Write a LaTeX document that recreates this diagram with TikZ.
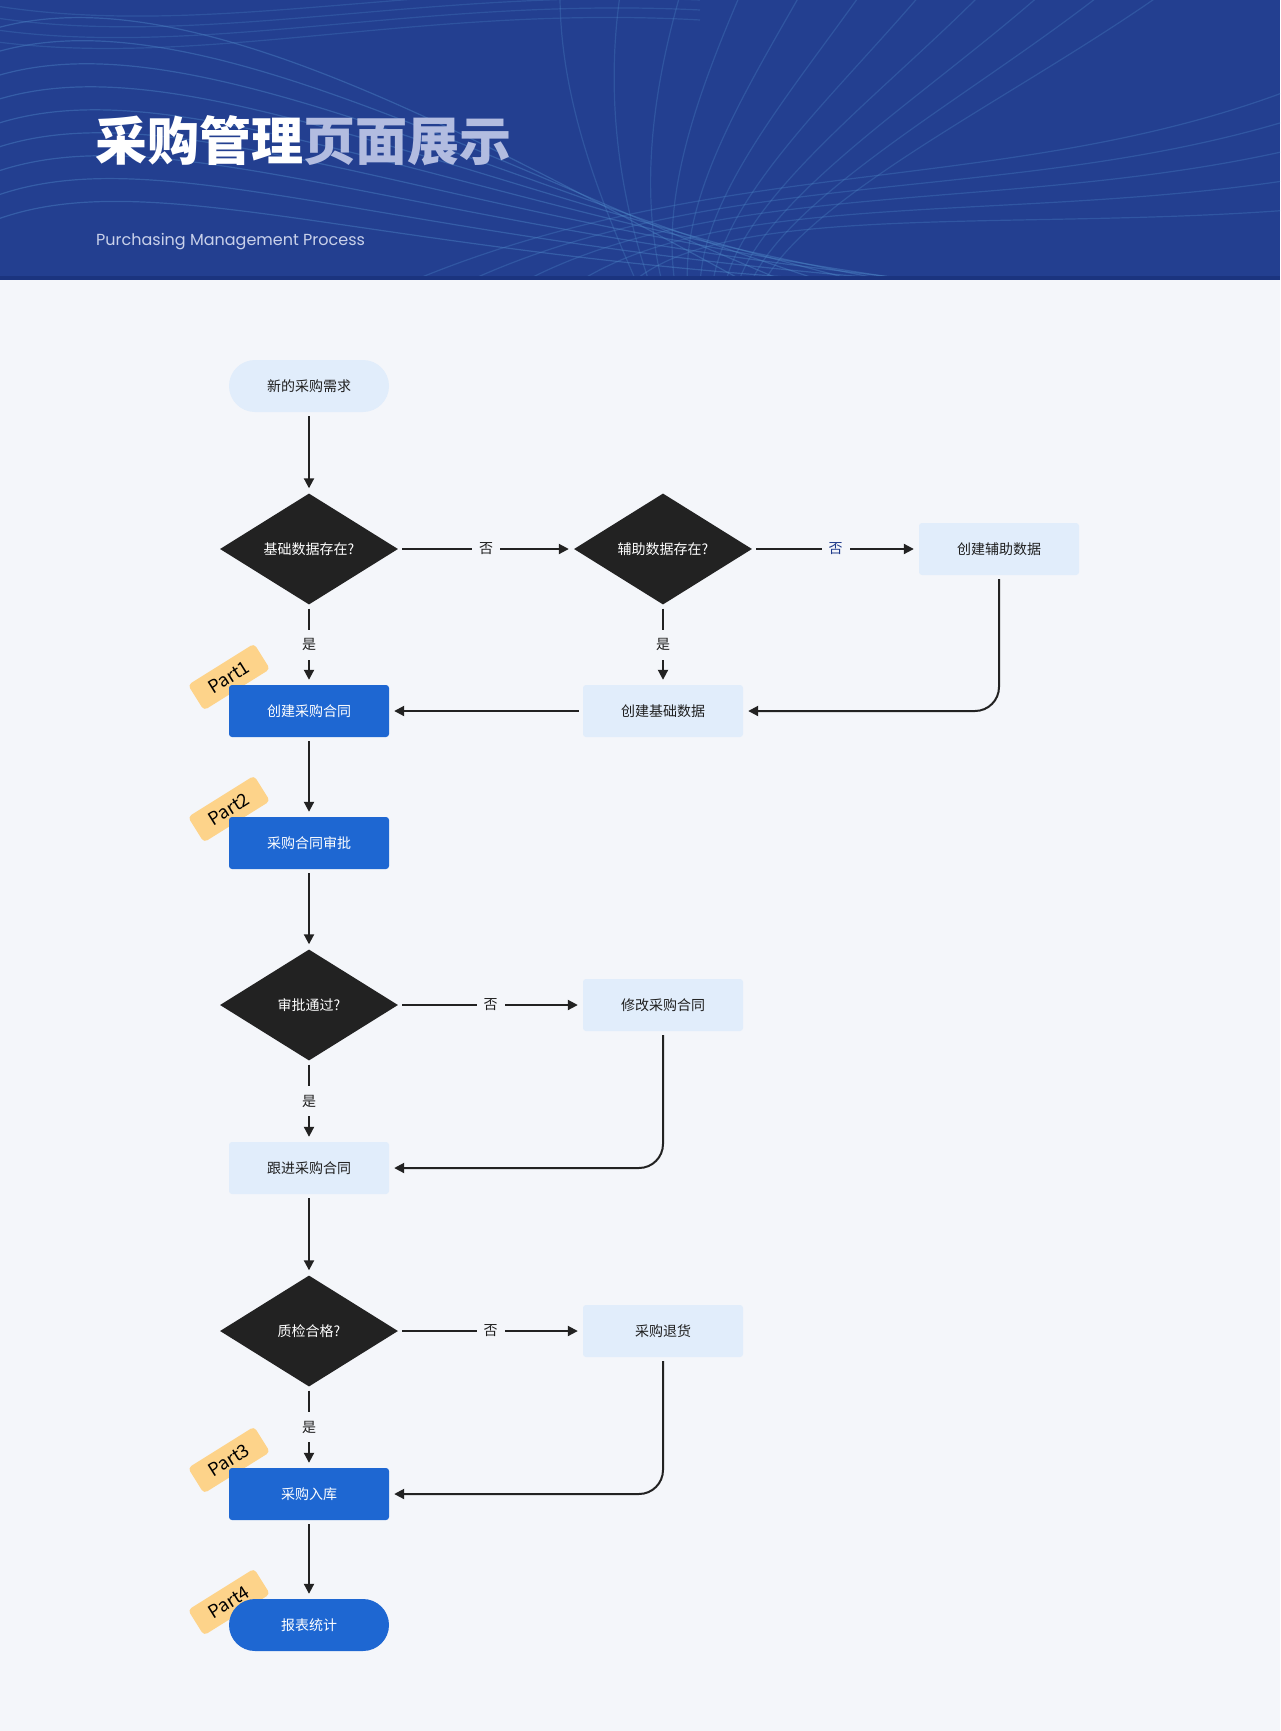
\documentclass[tikz,border=0pt]{standalone}
\usepackage{fontspec}
\setmainfont{Noto Sans CJK SC}
\newfontfamily\subfont{Poppins}
\usetikzlibrary{shapes.geometric,arrows.meta}
\definecolor{hdr}{HTML}{233F90}
\definecolor{hdrdark}{HTML}{1B347F}
\definecolor{wave}{HTML}{4E88C8}
\definecolor{bgmain}{HTML}{F4F6FA}
\definecolor{lightblue}{HTML}{E1EDFB}
\definecolor{bluefill}{HTML}{1E67D2}
\definecolor{dk}{HTML}{222222}
\definecolor{txt}{HTML}{1F1F1F}
\definecolor{tagc}{HTML}{FDD38A}
\definecolor{lav}{HTML}{B2BCE0}
\definecolor{subc}{HTML}{C9D1EA}
\definecolor{nolbl}{HTML}{1F3A8A}
\begin{document}
\begin{tikzpicture}[x=1pt,y=-1pt,
  base/.style={font=\fontsize{14}{16}\selectfont, inner sep=0pt, minimum width=160pt, minimum height=52pt, align=center},
  lightbox/.style={base, rectangle, rounded corners=3pt, fill=lightblue, text=txt},
  bluebox/.style={base, rectangle, rounded corners=3pt, fill=bluefill, text=white},
  lightpill/.style={base, rectangle, rounded corners=26pt, fill=lightblue, text=txt},
  bluepill/.style={base, rectangle, rounded corners=26pt, fill=bluefill, text=white},
  decision/.style={diamond, fill=dk, text=white, minimum width=178pt, minimum height=111pt, inner sep=0pt, font=\fontsize{14}{16}\selectfont},
  tagbox/.style={rectangle, rounded corners=4pt, fill=tagc, minimum width=78pt, minimum height=30pt, rotate=32, inner sep=0pt, text=black, font=\fontsize{18}{18}\selectfont},
  conn/.style={line width=2pt, draw=dk, -{Triangle[length=10pt,width=10pt]}, shorten >=5pt, shorten <=4pt},
  lbl/.style={fill=bgmain, font=\fontsize{14}{16}\selectfont, text=txt, inner xsep=7pt, inner ysep=9pt},
  wavy/.style={draw=wave, line width=1.2pt}
]
\useasboundingbox (0,0) rectangle (1280,1731);
% main background
\fill[bgmain] (0,0) rectangle (1280,1731);
% header
\fill[hdr] (0,0) rectangle (1280,280);
\begin{scope}
  \clip (0,0) rectangle (1280,277);
  % sweeping lines from the left
  \foreach \i in {0,...,8} {
    \draw[wavy, opacity=0.42]
      (-10,{30+\i*24}) .. controls (170,{-25+\i*22}) and (430,{110+\i*22}) .. ({760+\i*45},290);
  }
  % fan of lines from the top centre-right
  \foreach \i in {0,...,10} {
    \draw[wavy, opacity=0.3]
      ({560+\i*60},-5) .. controls ({560+\i*45},100) and ({600+\i*20},200) .. ({640+\i*12},290);
  }
  % broad rising wave at bottom right
  \foreach \i in {0,...,4} {
    \draw[wavy, opacity=0.32]
      ({380+\i*60},295) .. controls (700,{150+\i*12}) and (1000,{200+\i*8}) .. (1290,{90+\i*30});
  }
  % faint lines near the top left
  \foreach \i in {0,...,3} {
    \draw[wavy, opacity=0.28]
      (-10,{5+\i*12}) .. controls (200,{40+\i*10}) and (420,{-20+\i*8}) .. (700,{-10+\i*10});
  }
\end{scope}
\fill[hdrdark] (0,276) rectangle (1280,280);
\node[anchor=west, inner sep=0pt, font=\fontsize{52}{52}\selectfont\bfseries] (title) at (95,141)
  {\textcolor{white}{采购管理}\textcolor{lav}{页面展示}};
\node[anchor=west, inner sep=0pt, text=subc, font=\subfont\fontsize{16}{16}\selectfont] (subtitle) at (96,242)
  {Purchasing Management Process};

% tags (behind boxes)
\node[tagbox] (t1) at (229,677) {Part1};
\node[tagbox] (t2) at (229,809) {Part2};
\node[tagbox] (t3) at (229,1460) {Part3};
\node[tagbox] (t4) at (229,1602) {Part4};

% nodes
\node[lightpill] (start) at (309,386) {新的采购需求};
\node[decision] (d1) at (309,549) {基础数据存在?};
\node[decision] (d2) at (663,549) {辅助数据存在?};
\node[lightbox] (aux) at (999,549) {创建辅助数据};
\node[lightbox] (basic) at (663,711) {创建基础数据};
\node[bluebox] (c1) at (309,711) {创建采购合同};
\node[bluebox] (c2) at (309,843) {采购合同审批};
\node[decision] (d3) at (309,1005) {审批通过?};
\node[lightbox] (mod) at (663,1005) {修改采购合同};
\node[lightbox] (follow) at (309,1168) {跟进采购合同};
\node[decision] (d4) at (309,1331) {质检合格?};
\node[lightbox] (ret) at (663,1331) {采购退货};
\node[bluebox] (store) at (309,1494) {采购入库};
\node[bluepill] (report) at (309,1625) {报表统计};

% connectors
\draw[conn] (start) -- (d1);
\draw[conn] (d1.east) -- node[lbl] {否} (d2.west);
\draw[conn] (d2.east) -- node[lbl, text=nolbl] {否} (aux.west);
\draw[conn] (d1.south) -- node[lbl] {是} (c1.north);
\draw[conn] (d2.south) -- node[lbl] {是} (basic.north);
\draw[conn, rounded corners=24pt] (aux.south) |- (basic.east);
\draw[conn] (basic.west) -- (c1.east);
\draw[conn] (c1) -- (c2);
\draw[conn] (c2) -- (d3);
\draw[conn] (d3.east) -- node[lbl] {否} (mod.west);
\draw[conn] (d3.south) -- node[lbl] {是} (follow.north);
\draw[conn, rounded corners=24pt] (mod.south) |- (follow.east);
\draw[conn] (follow) -- (d4);
\draw[conn] (d4.east) -- node[lbl] {否} (ret.west);
\draw[conn] (d4.south) -- node[lbl] {是} (store.north);
\draw[conn, rounded corners=24pt] (ret.south) |- (store.east);
\draw[conn] (store) -- (report);
\end{tikzpicture}
\end{document}
